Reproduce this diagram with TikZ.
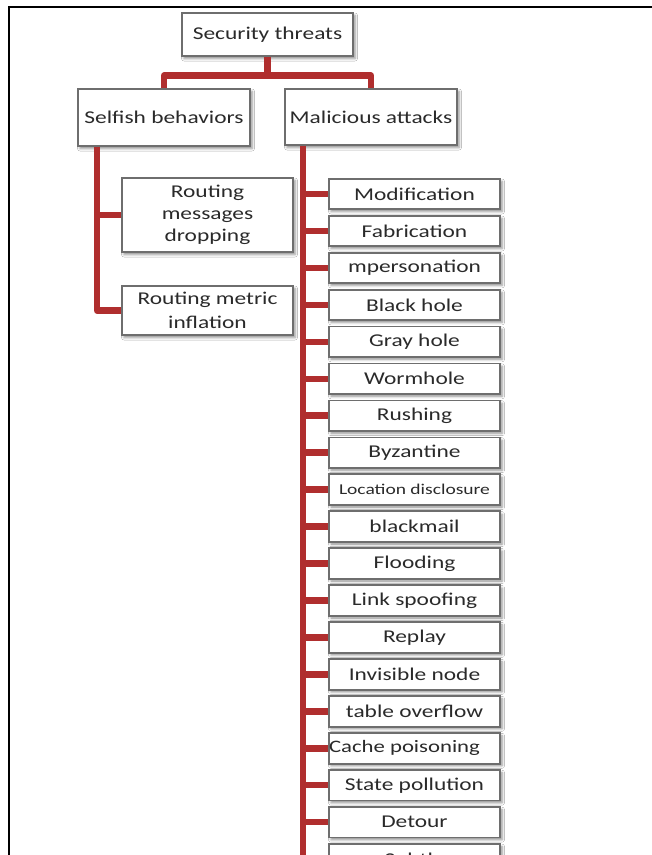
\documentclass[tikz,border=0pt]{standalone}
\usepackage{fontspec}
\setmainfont{Carlito}[FakeStretch=1.3]
\usetikzlibrary{shadows.blur}
\definecolor{conncol}{RGB}{176,46,46}
\definecolor{txtcol}{RGB}{42,42,42}
\definecolor{boxline}{RGB}{110,110,110}
\tikzset{
  box/.style={draw=boxline, line width=1.2pt, fill=white, inner sep=0pt,
    text=txtcol, font=\fontsize{18}{22}\selectfont, align=center,
    blur shadow={shadow xshift=2pt, shadow yshift=-2.5pt, shadow blur radius=2.5pt, shadow opacity=45}},
  leaf/.style={box, minimum width=171pt, minimum height=30pt},
  conn/.style={draw=conncol, line width=6.5pt, line join=round},
  frame/.style={draw=black, line width=2.2pt}
}
\begin{document}
\begin{tikzpicture}[x=1pt, y=-1pt]
\clip (0,0) rectangle (652,855);
\fill[white] (0,0) rectangle (652,855);
% frame
\draw[frame] (660,7) -- (9,7) -- (9,870);

% top level
\node[box, minimum width=171pt, minimum height=43pt] (st) at (267.5,34.5) {Security threats};
\node[box, minimum width=172pt, minimum height=57pt] (sb) at (164,117.5) {Selfish behaviors};
\node[box, minimum width=172pt, minimum height=56pt] (ma) at (371,117) {Malicious attacks};

% selfish children
\node[box, minimum width=171pt, minimum height=74pt] (rmd) at (207.5,215) {Routing\\messages\\dropping};
\node[box, minimum width=171pt, minimum height=49pt, font=\fontsize{18}{24}\selectfont] (rmi) at (207.5,310.5) {Routing metric\\inflation};

% malicious children
\node[leaf] (b0)  at (414.5,194.0) {Modification};
\node[leaf] (b1)  at (414.5,231.0) {Fabrication};
\node[leaf] (b2)  at (414.5,267.9) {mpersonation};
\node[leaf] (b3)  at (414.5,304.9) {Black hole};
\node[leaf] (b4)  at (414.5,341.8) {Gray hole};
\node[leaf] (b5)  at (414.5,378.8) {Wormhole};
\node[leaf] (b6)  at (414.5,415.7) {Rushing};
\node[leaf] (b7)  at (414.5,452.7) {Byzantine};
\node[leaf, font=\fontsize{15}{18}\selectfont] (b8) at (414.5,489.6) {Location disclosure};
\node[leaf] (b9)  at (414.5,526.6) {blackmail};
\node[leaf] (b10) at (414.5,563.5) {Flooding};
\node[leaf] (b11) at (414.5,600.5) {Link spoofing};
\node[leaf] (b12) at (414.5,637.4) {Replay};
\node[leaf] (b13) at (414.5,674.4) {Invisible node};
\node[leaf] (b14) at (414.5,711.3) {table overflow};
\node[leaf, font=\fontsize{17.5}{21}\selectfont] (b15) at (414.5,748.3) {\makebox[171pt][l]{Cache poisoning}};
\node[leaf] (b16) at (414.5,785.2) {State pollution};
\node[leaf] (b17) at (414.5,822.2) {Detour};
\node[leaf] (b18) at (414.5,859.1) {Subtle};

% connectors: top
\draw[conn] (st.south) -- ++(0,19) -| (sb.north);
\draw[conn] (st.south) -- ++(0,19) -| (ma.north);

% selfish trunk
\coordinate (sbt) at ([xshift=-67pt]sb.south);
\draw[conn] (sbt) |- (rmd.west);
\draw[conn] (sbt) |- (rmi.west);

% malicious trunk
\coordinate (mat) at ([xshift=-68pt]ma.south);
\draw[conn] (mat) -- (mat |- 0,900);
\foreach \i in {0,...,18}{
  \draw[conn] (mat |- b\i.west) -- (b\i.west);
}
% redraw box outlines on top of connector ends
\foreach \i in {0,...,18}{
  \draw[draw=boxline, line width=1.2pt] (b\i.north west) rectangle (b\i.south east);
}
\end{tikzpicture}
\end{document}
